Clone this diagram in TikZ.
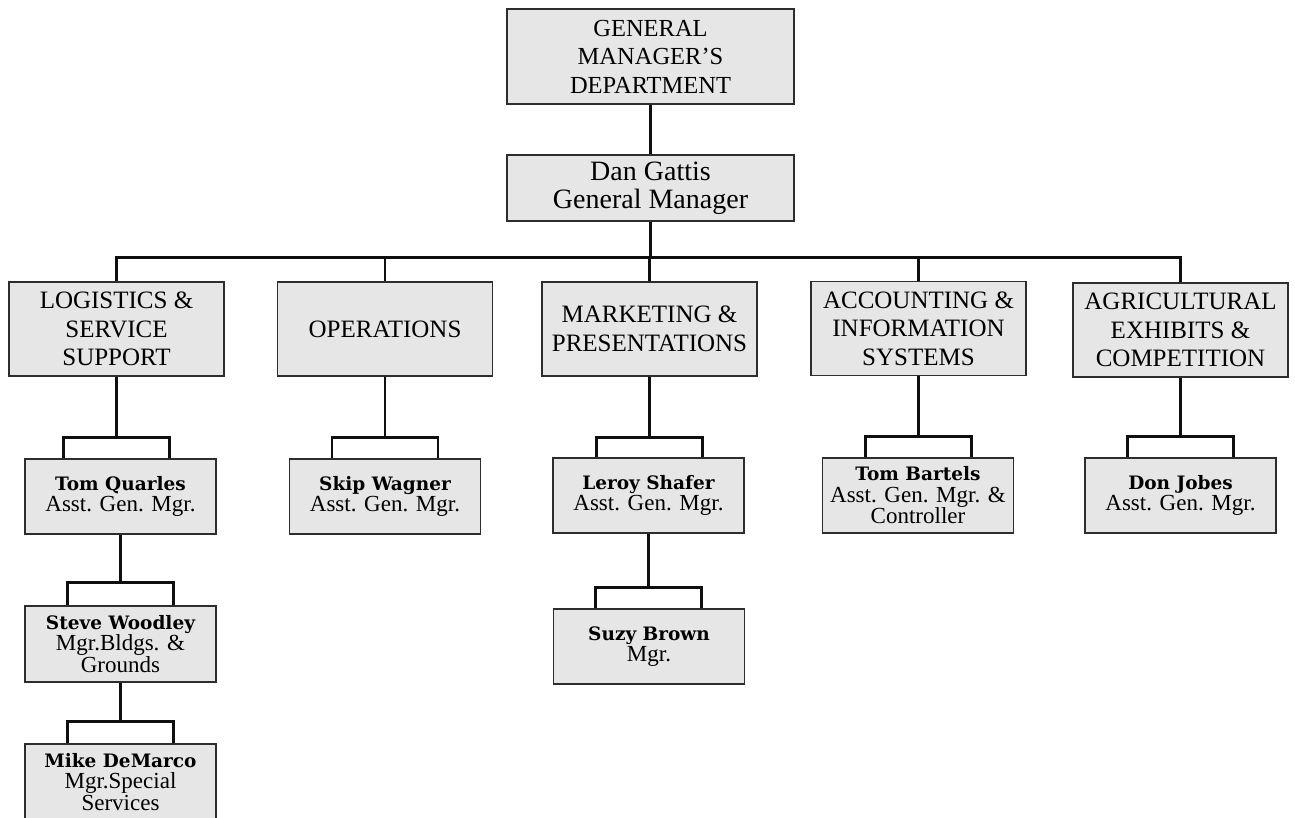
\documentclass[tikz,border=0pt]{standalone}
\usepackage{fontspec}
\setmainfont{Liberation Serif}
\newfontfamily\namefont{DejaVu Serif}
\usetikzlibrary{calc}
\definecolor{boxfill}{RGB}{230,230,230}
\definecolor{boxline}{RGB}{45,45,45}
\definecolor{connline}{RGB}{15,15,15}
\tikzset{
  box/.style={draw=boxline, line width=1.6pt, fill=boxfill, inner sep=0pt, align=center, text=black},
  topbox/.style={box, minimum width=287pt, font=\fontsize{24.5}{28.5}\selectfont},
  deptbox/.style={box, minimum width=215pt, minimum height=94pt, font=\fontsize{25}{28.5}\selectfont},
  persbox/.style={box, minimum width=191pt, minimum height=75pt, font=\fontsize{23}{21.5}\selectfont},
  link/.style={draw=connline, line width=2.8pt},
}
\newcommand\nm[1]{{\namefont\bfseries\fontsize{18.5}{21.5}\selectfont #1}}
\newcommand\forkto[3]{%
  \draw[link] (#1.south) -- ++(0,#3) coordinate (#2-b);
  \coordinate (#2-l) at ($(#2-b)+(-53,0)$);
  \coordinate (#2-r) at ($(#2-b)+(53,0)$);
  \draw[link] (#2-l |- #2.north) -- (#2-l) -- (#2-r) -- (#2-r |- #2.north);
}
\begin{document}
\begin{tikzpicture}[x=1pt,y=-1pt]
\useasboundingbox (0,0) rectangle (1295,817);
\clip (0,0) rectangle (1295,817);
% top
\node[topbox, minimum height=95pt] (gm) at (650.5,56.5) {GENERAL\\MANAGER’S\\DEPARTMENT};
\node[topbox, minimum height=66pt, font=\fontsize{28}{28.5}\selectfont] (dan) at (650.5,188) {Dan Gattis\\General Manager};
% departments
\node[deptbox] (log) at (116.5,329) {LOGISTICS \&\\SERVICE\\SUPPORT};
\node[deptbox] (ops) at (385,329) {OPERATIONS};
\node[deptbox] (mkt) at (649.5,329) {MARKETING \&\\PRESENTATIONS};
\node[deptbox] (acc) at (918.5,328.5) {ACCOUNTING \&\\INFORMATION\\SYSTEMS};
\node[deptbox] (agr) at (1180.5,330) {AGRICULTURAL\\EXHIBITS \&\\COMPETITION};
% people
\node[persbox] (tq) at (120.5,496.5) {\nm{Tom Quarles}\\Asst. Gen. Mgr.};
\node[persbox, minimum height=76pt] (sw) at (120.5,644) {\nm{Steve Woodley}\\Mgr.Bldgs. \&\\Grounds};
\node[persbox, minimum height=76pt] (md) at (120.5,782) {\nm{Mike DeMarco}\\Mgr.Special\\Services};
\node[persbox] (skw) at (385,496.5) {\nm{Skip Wagner}\\Asst. Gen. Mgr.};
\node[persbox] (ls) at (648.5,495.5) {\nm{Leroy Shafer}\\Asst. Gen. Mgr.};
\node[persbox] (sb) at (649,646.5) {\nm{Suzy Brown}\\Mgr.};
\node[persbox] (tb) at (918,495.5) {\nm{Tom Bartels}\\Asst. Gen. Mgr. \&\\Controller};
\node[persbox] (dj) at (1180.5,495.5) {\nm{Don Jobes}\\Asst. Gen. Mgr.};
% connectors
\draw[link] (gm.south) -- (dan.north);
\draw[link] (dan.south) -- ++(0,36) coordinate (bus);
\draw[link] (log.north) |- (agr.north |- bus) -- (agr.north);
\foreach \n in {ops,mkt,acc} \draw[link] (\n.north) -- (\n.north |- bus);
\forkto{log}{tq}{61}
\forkto{tq}{sw}{48}
\forkto{sw}{md}{39}
\forkto{ops}{skw}{61}
\forkto{mkt}{ls}{61}
\forkto{ls}{sb}{54}
\forkto{acc}{tb}{60}
\forkto{agr}{dj}{59}
\end{tikzpicture}
\end{document}
